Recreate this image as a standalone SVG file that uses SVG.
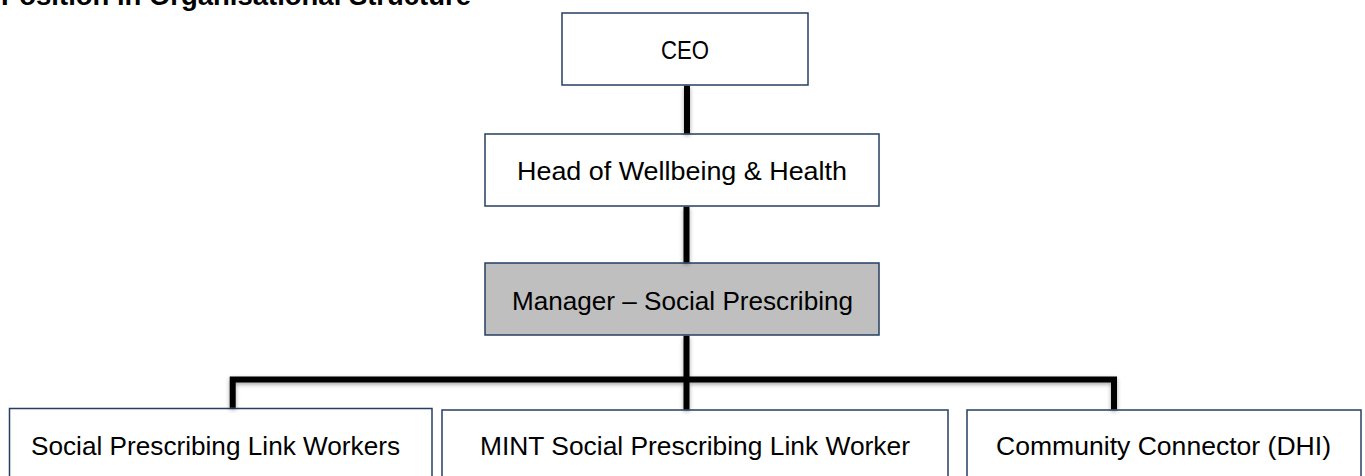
<svg xmlns="http://www.w3.org/2000/svg" width="1365" height="476" viewBox="0 0 1365 476">
  <style>
    .box { fill: #ffffff; stroke: #243f60; stroke-width: 1.5; }
    .mgr { fill: #bfbfbf; }
    .lbl { font-family: "Liberation Sans", Arial, sans-serif; font-size: 26.5px; fill: #000000; text-anchor: middle; }
    .title { font-family: "Liberation Sans", Arial, sans-serif; font-size: 27.5px; font-weight: bold; fill: #000000; }
    .conn { fill: none; stroke: #000000; stroke-width: 6; stroke-linejoin: miter; stroke-linecap: butt; }
  </style>
  <defs>
    <filter id="shadow" x="-20%" y="-20%" width="140%" height="140%">
      <feDropShadow dx="0" dy="2" stdDeviation="2" flood-color="#000000" flood-opacity="0.35"/>
    </filter>
  </defs>
  <rect width="1365" height="476" fill="#ffffff"/>

  <text class="title" x="1" y="5" textLength="470" lengthAdjust="spacingAndGlyphs">Position in Organisational Structure</text>

  <g id="node-ceo">
    <rect class="box" x="562" y="13" width="246" height="72"/>
    <text class="lbl" x="685" y="59" textLength="48" lengthAdjust="spacingAndGlyphs">CEO</text>
  </g>
  <g id="node-head">
    <rect class="box" x="485" y="134" width="394" height="72"/>
    <text class="lbl" x="682" y="180" textLength="330" lengthAdjust="spacingAndGlyphs">Head of Wellbeing &amp; Health</text>
  </g>
  <g id="node-manager">
    <rect class="box mgr" x="485" y="263" width="394" height="72"/>
    <text class="lbl" x="682.5" y="310" textLength="341" lengthAdjust="spacingAndGlyphs">Manager – Social Prescribing</text>
  </g>
  <g id="node-splw">
    <rect class="box" x="9.5" y="408.5" width="422.5" height="80"/>
    <text class="lbl" x="215.5" y="455" textLength="369" lengthAdjust="spacingAndGlyphs">Social Prescribing Link Workers</text>
  </g>
  <g id="node-mint">
    <rect class="box" x="442" y="410" width="506" height="80"/>
    <text class="lbl" x="695" y="455" textLength="430" lengthAdjust="spacingAndGlyphs">MINT Social Prescribing Link Worker</text>
  </g>
  <g id="node-cc">
    <rect class="box" x="967" y="410" width="394" height="80"/>
    <text class="lbl" x="1163.5" y="455" textLength="335" lengthAdjust="spacingAndGlyphs">Community Connector (DHI)</text>
  </g>

  <g id="connectors" filter="url(#shadow)">
    <path class="conn" d="M687 85.8 V133.3"/>
    <path class="conn" d="M686.5 206.8 V262.3"/>
    <path class="conn" d="M686.5 335.8 V409.3"/>
    <path class="conn" d="M232.7 407.8 V379.5 H1114 V409.3"/>
  </g>
</svg>
